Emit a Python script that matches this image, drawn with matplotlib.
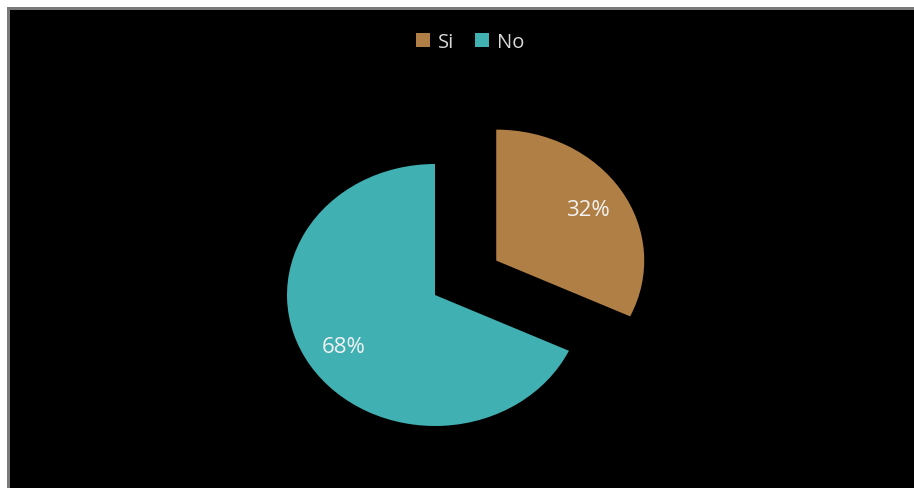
import matplotlib
matplotlib.use("Agg")
import matplotlib.pyplot as plt
from matplotlib.patches import Rectangle

labels = ["Si", "No"]
values = [32, 68]
colors = ["#B07F45", "#40B0B2"]
explode = [0.49, 0.0]

W, H = 914, 489
fig = plt.figure(figsize=(W / 100, H / 100), dpi=100, facecolor="white")

# black chart area with grey left/top border
fig.patches.append(Rectangle((7 / W, 0), 1 - 7 / W, (H - 8) / H, transform=fig.transFigure,
                             facecolor="#7a7a7a", edgecolor="none", zorder=-10))
fig.patches.append(Rectangle((10 / W, 0), 1 - 10 / W, (H - 11) / H, transform=fig.transFigure,
                             facecolor="black", edgecolor="none", zorder=-9))

ax = fig.add_axes([0, 0, 1, 1])
ax.set_zorder(1)
ax.set_facecolor("none")
ax.patch.set_alpha(0)

wedges, texts, autotexts = ax.pie(values, colors=colors, explode=explode, startangle=90,
                                  counterclock=False, autopct="%1.0f%%", pctdistance=0.73,
                                  wedgeprops=dict(linewidth=0),
                                  textprops=dict(color="#F2F2F2", fontsize=16, family="Open Sans"))
ax.set_aspect("auto")
cx, cy = 435, H - 296
rx, ry = 148, 131
ax.set_xlim(-cx / rx, (W - cx) / rx)
ax.set_ylim(-cy / ry, (H - cy) / ry)
ax.axis("off")

leg = fig.legend(wedges, labels, loc="center", bbox_to_anchor=(470 / W, 1 - 43 / H), ncol=2,
                 frameon=False, handlelength=0.7, handleheight=0.7, handletextpad=0.4,
                 columnspacing=1.0, prop=dict(family="Open Sans", size=14.5))
leg.set_zorder(2)
for t in leg.get_texts():
    t.set_color("#D9D9D9")

fig.savefig("out.png", dpi=100, facecolor="white")
